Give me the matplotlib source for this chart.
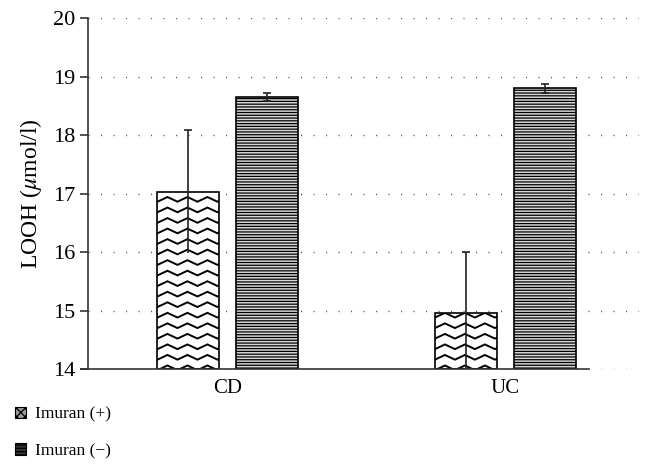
import numpy as np
import matplotlib.pyplot as plt
from matplotlib.patches import Rectangle

# ----------------------- data ---------------------------------------------- #
groups = ["CD", "UC"]
series = ["Imuran (+)", "Imuran (\u2212)"]
imuran_plus = [17.03, 14.95]
imuran_plus_err = [1.05, 1.05]
imuran_minus = [18.65, 18.80]
imuran_minus_err = [0.07, 0.08]
yticks = [14, 15, 16, 17, 18, 19, 20]
ybase = 14

plt.rcParams['font.family'] = ['Liberation Serif', 'DejaVu Serif']
plt.rcParams['mathtext.fontset'] = 'stix'
plt.rcParams['hatch.linewidth'] = 0.9

fig = plt.figure(figsize=(6.59, 4.74), dpi=100)
ax = fig.add_axes([0.1335, 0.2215, 0.8362, 0.7405])

x = np.arange(len(groups))
w = 0.223
off = 0.142
axcol = '#333333'


def zigzag(ax, bar, period=0.072, amp=0.08, step=0.18):
    """draw zigzag lines clipped to the bar (pattern of Imuran (+))"""
    x0, y0 = bar.get_x(), bar.get_y()
    x1, y1 = x0 + bar.get_width(), y0 + bar.get_height()
    xs = np.arange(x0 - period, x1 + period, period / 2)
    for yb in np.arange(y0 - 0.2, y1 + 0.2, step):
        ys = yb + np.where(np.arange(len(xs)) % 2 == 0, 0, amp)
        ln, = ax.plot(xs, ys, color='black', lw=1.4, solid_joinstyle='miter', zorder=2.5)
        ln.set_clip_path(bar)


# Imuran (+): white with zigzag
bars_p = ax.bar(x - off, np.array(imuran_plus) - ybase, w, bottom=ybase, facecolor='white',
                edgecolor='black', lw=1.2, zorder=2)
for b in bars_p:
    zigzag(ax, b)
eb = ax.errorbar(x - off, imuran_plus, yerr=imuran_plus_err, fmt='none', ecolor='#222222',
                 elinewidth=1.2, capsize=3, capthick=1.2, zorder=4)
eb[1][0].set_visible(False)   # no cap at the lower end

# Imuran (-): horizontal lines
bars_m = ax.bar(x + off, np.array(imuran_minus) - ybase, w, bottom=ybase, facecolor='#d8d8d8',
                edgecolor='black', lw=1.2, hatch='-' * 6, zorder=2)
ax.errorbar(x + off, imuran_minus, yerr=imuran_minus_err, fmt='none', ecolor='#222222',
            elinewidth=1.2, capsize=3, capthick=1.2, zorder=4)

ax.set_ylim(14, 20)
ax.set_xlim(-0.504, 1.482)
ax.set_yticks(yticks)
ax.set_xticks(x)
ax.set_xticklabels(groups, fontsize=15)
ax.tick_params(axis='y', labelsize=16, length=6, width=1.2, color=axcol, direction='out', pad=3)
ax.tick_params(axis='x', length=0, pad=7)
ax.set_ylabel(r"LOOH ($\mathit{\mu}$mol/l)", fontsize=17, labelpad=7)

ax.yaxis.grid(True, color='#555555', linestyle=(0, (0.8, 8.2)), lw=1.0)
ax.set_axisbelow(True)
for s in ['top', 'right', 'bottom']:
    ax.spines[s].set_visible(False)
ax.spines['left'].set_color(axcol)
ax.spines['left'].set_linewidth(1.2)
# bottom axis line (shorter than the grid)
ax.plot([-0.53, 1.302], [14, 14], color=axcol, lw=1.2, clip_on=False, zorder=5)

# legend
h1 = Rectangle((0, 0), 1, 1, facecolor='#999999', edgecolor='black', hatch='xxxx', lw=0.8)
h2 = Rectangle((0, 0), 1, 1, facecolor='#333333', edgecolor='black', hatch='-----', lw=0.8)
fig.legend([h1, h2], series, loc='upper left', bbox_to_anchor=(0.012, 0.157),
           frameon=False, fontsize=12.5, handlelength=0.65, handleheight=0.65,
           handletextpad=0.5, labelspacing=1.2, borderaxespad=0)

fig.savefig("out.png", dpi=100)
